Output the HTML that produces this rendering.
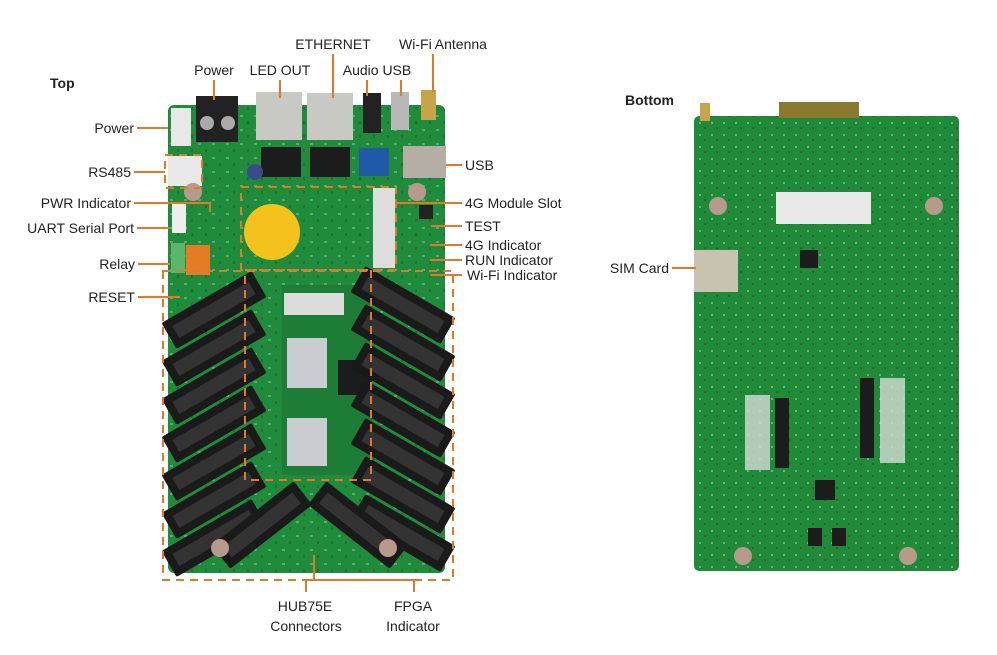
<!DOCTYPE html>
<html><head><meta charset="utf-8"><style>
html,body{margin:0;padding:0;background:#fff}
svg{display:block}
text{font-family:"Liberation Sans",sans-serif;font-size:14px;fill:#222}
</style></head><body>
<svg width="997" height="655" viewBox="0 0 997 655" xmlns="http://www.w3.org/2000/svg">
<defs>
<pattern id="pcb" width="14" height="14" patternUnits="userSpaceOnUse">
<rect width="14" height="14" fill="#1f8c3b"/>
<rect x="2" y="3" width="3" height="2" fill="#5fa872"/>
<rect x="9" y="9" width="2" height="3" fill="#2a6b3a"/>
</pattern>
<pattern id="pcb2" width="12" height="12" patternUnits="userSpaceOnUse">
<rect width="12" height="12" fill="#1f8a38"/>
<rect x="3" y="2" width="2" height="2" fill="#6fae7e"/>
<rect x="8" y="7" width="2" height="2" fill="#2d5f38"/>
</pattern>
<g id="hdr"><rect x="-52" y="-15" width="104" height="30" fill="#1a1a1a" rx="2"/><rect x="-44" y="-7" width="88" height="14" fill="#333"/></g>
</defs>

<!-- TOP BOARD -->
<rect x="168" y="105" width="277" height="468" rx="6" fill="url(#pcb)"/>
<rect x="196" y="96" width="42" height="46" fill="#222"/>
<circle cx="207" cy="123" r="7" fill="#aaa"/><circle cx="228" cy="123" r="7" fill="#aaa"/>
<rect x="256" y="92" width="46" height="48" fill="#c9c9c4"/>
<rect x="307" y="93" width="46" height="47" fill="#c9c9c4"/>
<rect x="363" y="93" width="18" height="40" fill="#222"/>
<rect x="391" y="92" width="18" height="38" fill="#b8b8b8"/>
<rect x="421" y="90" width="15" height="30" fill="#c7a34a"/>
<rect x="171" y="108" width="20" height="38" fill="#e8e8e8"/>
<rect x="403" y="146" width="43" height="32" fill="#b5aea5"/>
<rect x="261" y="147" width="40" height="30" fill="#1c1c1c"/>
<rect x="310" y="147" width="40" height="30" fill="#1c1c1c"/>
<rect x="359" y="148" width="30" height="28" fill="#1f5aa8"/>
<rect x="373" y="188" width="22" height="80" fill="#ddd"/>
<circle cx="272" cy="232" r="28" fill="#f5c11c"/>
<rect x="186" y="245" width="24" height="30" fill="#e57b22"/>
<rect x="171" y="243" width="14" height="30" fill="#5db56a"/>
<rect x="172" y="203" width="14" height="30" fill="#eee"/>
<rect x="168" y="156" width="34" height="30" fill="#e8e8e8"/>
<circle cx="255" cy="172" r="8" fill="#3b4b8a"/>
<rect x="419" y="205" width="14" height="14" fill="#222"/>
<rect x="282" y="285" width="90" height="190" fill="#1d7c36"/>
<rect x="287" y="338" width="40" height="50" fill="#c8ccd0"/>
<rect x="287" y="418" width="40" height="48" fill="#c8ccd0"/>
<rect x="338" y="360" width="34" height="35" fill="#1c1c1c"/>
<rect x="284" y="293" width="60" height="22" fill="#dcdcdc"/>
<g transform="translate(214,310) rotate(-30)"><use href="#hdr"/></g>
<g transform="translate(214,348) rotate(-30)"><use href="#hdr"/></g>
<g transform="translate(214,386) rotate(-30)"><use href="#hdr"/></g>
<g transform="translate(214,424) rotate(-30)"><use href="#hdr"/></g>
<g transform="translate(214,462) rotate(-30)"><use href="#hdr"/></g>
<g transform="translate(214,500) rotate(-30)"><use href="#hdr"/></g>
<g transform="translate(214,538) rotate(-30)"><use href="#hdr"/></g>
<g transform="translate(262,525) rotate(-38)"><use href="#hdr"/></g>
<g transform="translate(403,305) rotate(30)"><use href="#hdr"/></g>
<g transform="translate(403,343) rotate(30)"><use href="#hdr"/></g>
<g transform="translate(403,381) rotate(30)"><use href="#hdr"/></g>
<g transform="translate(403,419) rotate(30)"><use href="#hdr"/></g>
<g transform="translate(403,457) rotate(30)"><use href="#hdr"/></g>
<g transform="translate(403,495) rotate(30)"><use href="#hdr"/></g>
<g transform="translate(403,533) rotate(30)"><use href="#hdr"/></g>
<g transform="translate(358,525) rotate(38)"><use href="#hdr"/></g>
<circle cx="220" cy="548" r="9" fill="#b79a8a"/><circle cx="388" cy="548" r="9" fill="#b79a8a"/>
<circle cx="193" cy="192" r="9" fill="#b79a8a"/><circle cx="417" cy="192" r="9" fill="#b79a8a"/>

<g fill="none" stroke="#e07a2a" stroke-width="2" stroke-dasharray="8,6">
<rect x="163" y="271" width="290" height="309"/>
<rect x="245" y="270" width="126" height="210"/>
<rect x="165" y="155" width="37" height="33"/>
<rect x="241" y="187" width="155" height="83"/>
</g>

<!-- BOTTOM BOARD -->
<rect x="694" y="116" width="265" height="455" rx="5" fill="url(#pcb2)"/>
<rect x="779" y="102" width="80" height="16" fill="#8a7a30"/>
<rect x="700" y="103" width="10" height="18" fill="#c7a34a"/>
<rect x="776" y="192" width="95" height="32" fill="#e8e8e8"/>
<rect x="694" y="250" width="44" height="42" fill="#c8c3b0"/>
<rect x="800" y="250" width="18" height="18" fill="#1c1c1c"/>
<g fill="#1c1c1c">
<rect x="775" y="398" width="14" height="70"/>
<rect x="860" y="378" width="14" height="80"/>
<rect x="815" y="480" width="20" height="20"/>
<rect x="808" y="528" width="14" height="18"/><rect x="832" y="528" width="14" height="18"/>
</g>
<g fill="#d6dcd6" opacity="0.8">
<rect x="745" y="395" width="25" height="75"/><rect x="880" y="378" width="25" height="85"/>
</g>
<circle cx="718" cy="206" r="9" fill="#b79a8a"/><circle cx="934" cy="206" r="9" fill="#b79a8a"/>
<circle cx="743" cy="556" r="9" fill="#b79a8a"/><circle cx="908" cy="556" r="9" fill="#b79a8a"/>

<g stroke="#e07a2a" stroke-width="2" fill="none">
<line x1="214" y1="80" x2="214" y2="100"/>
<line x1="280" y1="80" x2="280" y2="98"/>
<line x1="333" y1="54" x2="333" y2="98"/>
<line x1="367" y1="80" x2="367" y2="96"/>
<line x1="401" y1="80" x2="401" y2="96"/>
<line x1="433" y1="54" x2="433" y2="92"/>
<line x1="137" y1="128" x2="168" y2="128"/>
<line x1="134" y1="172" x2="165" y2="172"/>
<polyline points="134,203 210,203 210,212"/>
<line x1="137" y1="228" x2="170" y2="228"/>
<line x1="138" y1="264" x2="170" y2="264"/>
<line x1="138" y1="297" x2="180" y2="297"/>
<line x1="446" y1="165" x2="462" y2="165"/>
<line x1="395" y1="203" x2="462" y2="203"/>
<line x1="431" y1="226" x2="462" y2="226"/>
<line x1="430" y1="245" x2="462" y2="245"/>
<line x1="430" y1="260" x2="462" y2="260"/>
<line x1="430" y1="275" x2="462" y2="275"/>
<polyline points="306,592 306,580 414,580 414,592"/>
<line x1="314" y1="555" x2="314" y2="580"/>
<line x1="672" y1="268" x2="696" y2="268"/>
</g>

<text x="50" y="88" style="font-weight:bold;font-size:14px">Top</text>
<text x="625" y="105" style="font-weight:bold;font-size:14px">Bottom</text>
<text x="214" y="75" text-anchor="middle">Power</text>
<text x="280" y="75" text-anchor="middle">LED OUT</text>
<text x="333" y="49" text-anchor="middle">ETHERNET</text>
<text x="377" y="75" text-anchor="middle">Audio USB</text>
<text x="443" y="49" text-anchor="middle">Wi-Fi Antenna</text>
<g text-anchor="end">
<text x="134" y="133">Power</text>
<text x="131" y="177">RS485</text>
<text x="131" y="208">PWR Indicator</text>
<text x="134" y="233">UART Serial Port</text>
<text x="135" y="269">Relay</text>
<text x="135" y="302">RESET</text>
<text x="669" y="273">SIM Card</text>
</g>
<text x="465" y="170">USB</text>
<text x="465" y="208">4G Module Slot</text>
<text x="465" y="231">TEST</text>
<text x="465" y="250">4G Indicator</text>
<text x="465" y="265">RUN Indicator</text>
<text x="467" y="280">Wi-Fi Indicator</text>
<text x="305" y="611" text-anchor="middle">HUB75E</text>
<text x="306" y="631" text-anchor="middle">Connectors</text>
<text x="413" y="611" text-anchor="middle">FPGA</text>
<text x="413" y="631" text-anchor="middle">Indicator</text>
</svg>
</body></html>
